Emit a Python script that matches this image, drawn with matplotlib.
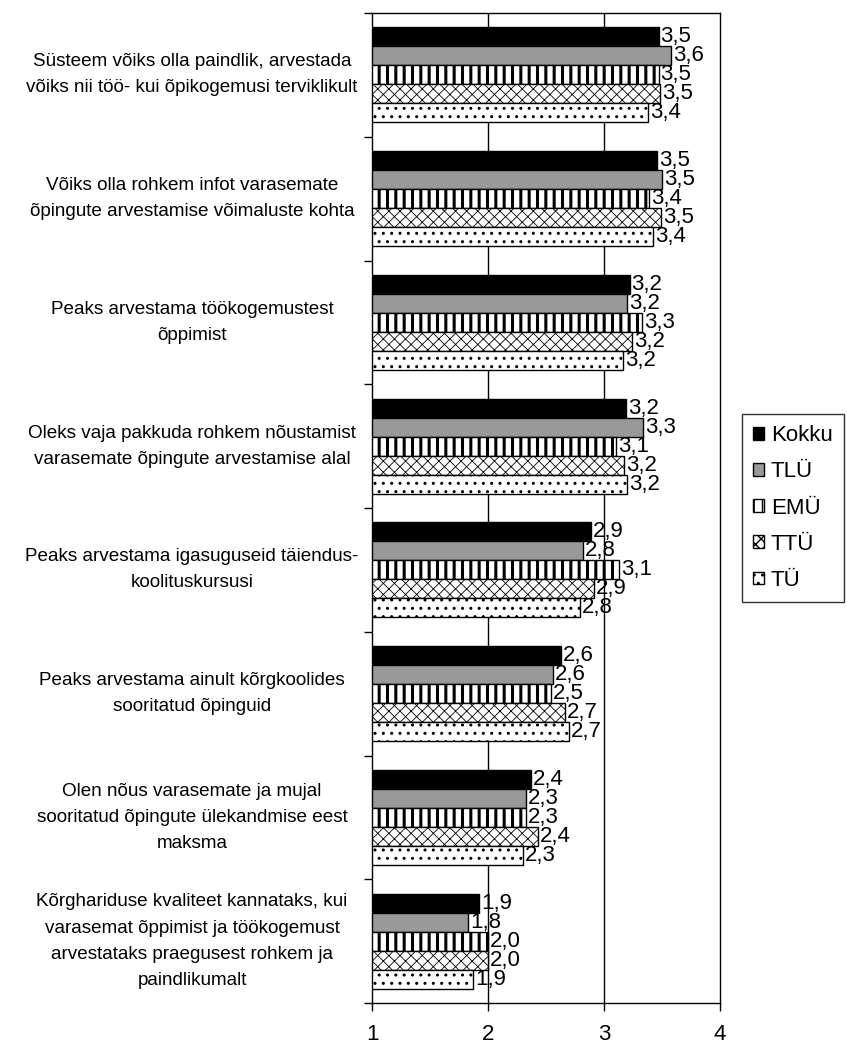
import numpy as np
import matplotlib
matplotlib.use("Agg")
import matplotlib.pyplot as plt
from matplotlib.transforms import blended_transform_factory

# =========================
# DATA
# =========================
categories = [
    "Süsteem võiks olla paindlik, arvestada\nvõiks nii töö- kui õpikogemusi terviklikult",
    "Võiks olla rohkem infot varasemate\nõpingute arvestamise võimaluste kohta",
    "Peaks arvestama töökogemustest\nõppimist",
    "Oleks vaja pakkuda rohkem nõustamist\nvarasemate õpingute arvestamise alal",
    "Peaks arvestama igasuguseid täiendus-\nkoolituskursusi",
    "Peaks arvestama ainult kõrgkoolides\nsooritatud õpinguid",
    "Olen nõus varasemate ja mujal\nsooritatud õpingute ülekandmise eest\nmaksma",
    "Kõrghariduse kvaliteet kannataks, kui\nvarasemat õppimist ja töökogemust\narvestataks praegusest rohkem ja\npaindlikumalt",
]
series_names = ["Kokku", "TLÜ", "EMÜ", "TTÜ", "TÜ"]
kokku = [3.47, 3.46, 3.22, 3.19, 2.89, 2.63, 2.37, 1.92]
tlu = [3.58, 3.50, 3.20, 3.34, 2.82, 2.56, 2.33, 1.83]
emu = [3.47, 3.39, 3.33, 3.10, 3.13, 2.54, 2.33, 2.00]
ttu = [3.48, 3.49, 3.24, 3.17, 2.91, 2.66, 2.43, 2.00]
tu = [3.38, 3.42, 3.16, 3.20, 2.79, 2.70, 2.30, 1.87]
x_ticks = [1, 2, 3, 4]

series = [kokku, tlu, emu, ttu, tu]
fills = ["black", "#999999", "white", "white", "white"]
hatches = [None, None, "||", "xxx", ".."]
hatch_lw = [1.0, 1.0, 2.2, 0.6, 1.0]

plt.rcParams["font.family"] = ["Liberation Sans", "DejaVu Sans"]

fig = plt.figure(figsize=(8.47, 10.45), dpi=100)
W, H = 847, 1045
ax = fig.add_axes([372 / W, 1 - 1003 / H, (720 - 372) / W, (1003 - 13) / H])

y = np.arange(len(categories))
h = 0.1535

for i, vals in enumerate(series):
    plt.rcParams["hatch.linewidth"] = hatch_lw[i]
    ax.barh(y + (i - 2) * h, np.array(vals) - 1, left=1, height=h,
            color=fills[i], edgecolor="black", linewidth=1.0,
            hatch=hatches[i], label=series_names[i], zorder=3)
    for v, yy in zip(vals, y + (i - 2) * h):
        ax.annotate(f"{v:.1f}".replace(".", ","), (v, yy), xytext=(1.5, 0),
                    textcoords="offset points", va="center", ha="left",
                    fontsize=16, zorder=4)

ax.set_xlim(1, 4)
ax.set_ylim(len(categories) - 0.5, -0.5)
ax.set_xticks(x_ticks)
ax.set_xticklabels([str(t) for t in x_ticks], fontsize=16)
ax.tick_params(axis="x", direction="out", length=6, width=1, pad=9)

ax.set_yticks([])
ax.set_yticks(np.arange(len(categories) + 1) - 0.5, minor=True)
ax.tick_params(axis="y", which="minor", direction="out", length=6, width=1)

for gx in [2, 3]:
    ax.axvline(gx, color="black", linewidth=1, zorder=1)

for s in ax.spines.values():
    s.set_linewidth(1)
    s.set_color("black")

trans = blended_transform_factory(fig.transFigure, ax.transData)
for yy, lab in zip(y, categories):
    ax.text(192 / W, yy, lab, transform=trans, ha="center", va="center",
            multialignment="center", fontsize=13.6, linespacing=1.7)

leg = fig.legend(loc="center left", bbox_to_anchor=(742 / W, 1 - 508 / H),
                 fontsize=16, frameon=True, fancybox=False, edgecolor="black",
                 handlelength=0.5, handleheight=0.5, handletextpad=0.3,
                 labelspacing=0.68, borderpad=0.5, borderaxespad=0)
leg.get_frame().set_linewidth(1)

fig.savefig("out.png", dpi=100)
